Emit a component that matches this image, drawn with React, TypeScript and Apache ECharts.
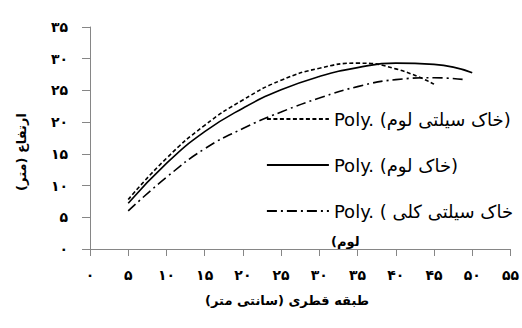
import React, { useEffect, useRef } from "react";
import * as echarts from "echarts";

const xTickLabels = ["۰", "۵", "۱۰", "۱۵", "۲۰", "۲۵", "۳۰", "۳۵", "۴۰", "۴۵", "۵۰", "۵۵"];
const yTickLabels = ["۰", "۵", "۱۰", "۱۵", "۲۰", "۲۵", "۳۰", "۳۵"];

const seriesNames = ["خاک سیلتی لوم", "خاک لوم", "خاک سیلتی کلی لوم"];
const legendLabels = ["Poly. (خاک سیلتی لوم)", "Poly. (خاک لوم)", "Poly. ( خاک سیلتی کلی"];
const legendWrap = "(لوم";

const siltyLoam: [number, number][] = [
  [5, 7.8], [10, 14.3], [15, 19.5], [20, 23.5], [25, 26.6], [30, 28.5], [35, 29.3], [40, 28.4], [45, 26.0],
];
const loam: [number, number][] = [
  [5, 7.2], [10, 13.5], [15, 18.5], [20, 22.2], [25, 25.1], [30, 27.2], [35, 28.6], [40, 29.3], [45, 29.1], [50, 27.8],
];
const siltyClayLoam: [number, number][] = [
  [5, 6.0], [10, 11.3], [15, 15.8], [20, 19.0], [25, 21.6], [30, 23.8], [35, 25.6], [40, 26.7], [45, 27.0], [49, 26.7],
];

const xTitle = "طبقه قطری (سانتی متر)";
const yTitle = "ارتفاع (متر)";

const FONT = "'DejaVu Sans', 'Noto Sans', sans-serif";
const AXIS = "#868686";

export default function App() {
  const ref = useRef<HTMLDivElement>(null);
  useEffect(() => {
    if (!ref.current) return;
    const chart = echarts.init(ref.current, null, { renderer: "svg" });
    const lineSeries = (name: string, data: [number, number][], type: any) => ({
      type: "line",
      name,
      data,
      smooth: true,
      symbol: "none",
      lineStyle: { color: "#000", width: 1.6, type },
      itemStyle: { color: "#000" },
    });
    chart.setOption({
      animation: false,
      backgroundColor: "#fff",
      grid: { left: 90, right: 10, top: 27, bottom: 79, containLabel: false },
      xAxis: {
        type: "value",
        min: 0,
        max: 55,
        interval: 5,
        axisLine: { show: true, lineStyle: { color: AXIS, width: 1 } },
        axisTick: { show: true, length: 7, lineStyle: { color: AXIS } },
        splitLine: { show: false },
        axisLabel: {
          margin: 19,
          fontFamily: FONT,
          fontSize: 14,
          fontWeight: "bold",
          color: "#000",
          formatter: (v: number) => xTickLabels[Math.round(v / 5)] ?? "",
        },
      },
      yAxis: {
        type: "value",
        min: 0,
        max: 35,
        interval: 5,
        axisLine: { show: true, lineStyle: { color: AXIS, width: 1 } },
        axisTick: { show: true, length: 8, lineStyle: { color: AXIS } },
        splitLine: { show: false },
        axisLabel: {
          margin: 22,
          fontFamily: FONT,
          fontSize: 14,
          fontWeight: "bold",
          color: "#000",
          formatter: (v: number) => yTickLabels[Math.round(v / 5)] ?? "",
        },
      },
      legend: {
        orient: "vertical",
        left: 261,
        top: 104,
        itemWidth: 62,
        itemHeight: 14,
        itemGap: 26,
        data: seriesNames,
        formatter: (name: string) => legendLabels[seriesNames.indexOf(name)],
        textStyle: { fontFamily: FONT, fontSize: 18, color: "#000", lineHeight: 20 },
        itemStyle: { opacity: 0 },
        lineStyle: { width: 1.8 },
      },
      graphic: [
        {
          type: "text",
          left: 331,
          top: 235,
          style: { text: legendWrap, fontFamily: FONT, fontSize: 13, fontWeight: "bold", fill: "#000" },
        },
        {
          type: "text",
          x: 287,
          y: 300,
          style: {
            text: xTitle,
            fontFamily: FONT,
            fontSize: 13,
            fontWeight: "bold",
            fill: "#000",
            align: "center",
            verticalAlign: "middle",
          },
        },
        {
          type: "text",
          x: 21,
          y: 152,
          rotation: Math.PI / 2,
          style: {
            text: yTitle,
            fontFamily: FONT,
            fontSize: 13,
            fontWeight: "bold",
            fill: "#000",
            align: "center",
            verticalAlign: "middle",
          },
        },
      ],
      series: [
        lineSeries(seriesNames[0], siltyLoam, [4, 2.5]),
        lineSeries(seriesNames[1], loam, "solid"),
        lineSeries(seriesNames[2], siltyClayLoam, [10, 4, 2, 4]),
      ],
    });
    return () => chart.dispose();
  }, []);
  return (
    <div
      ref={ref}
      style={{ position: "fixed", left: 0, top: 0, width: 522, height: 328, background: "#fff" }}
    />
  );
}
